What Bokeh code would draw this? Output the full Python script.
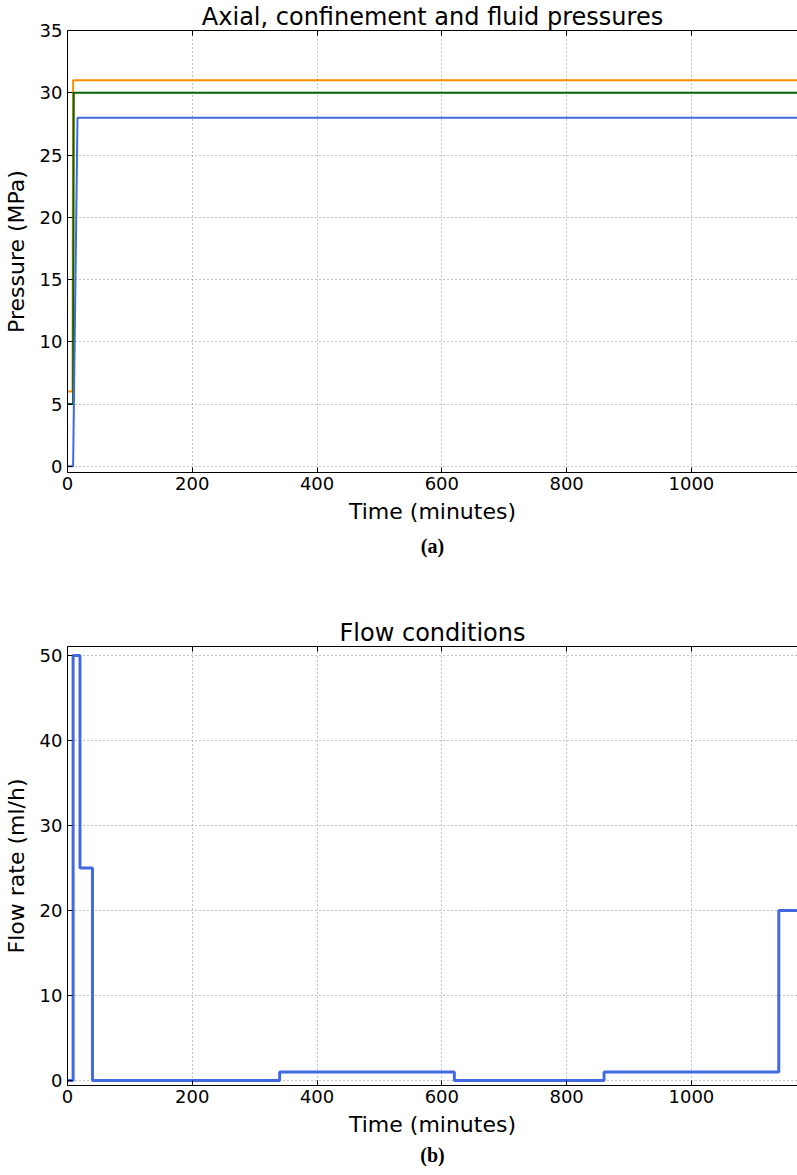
from bokeh.plotting import figure
from bokeh.models import Range1d, Title, FixedTicker, LinearAxis
from bokeh.layouts import column
from bokeh.embed import file_html
from bokeh.resources import INLINE

# ---- Panel (a): pressures ----
t_axial = [0, 8, 9, 1170]
axial_pressure = [6, 6, 31, 31]
t_confinement = [0, 9, 10, 1170]
confinement_pressure = [5, 5, 30, 30]
t_fluid = [0, 9, 16, 1170]
fluid_pressure = [0, 0, 28, 28]

# ---- Panel (b): flow rate (step, value holds until next time) ----
t_flow = [0, 9, 20, 40, 340, 620, 860, 1140, 1170]
flow_rate = [0, 50, 25, 0, 1, 0, 1, 20, 20]

x_ticks = [0, 200, 400, 600, 800, 1000]
y_ticks_a = [0, 5, 10, 15, 20, 25, 30, 35]
y_ticks_b = [0, 10, 20, 30, 40, 50]

FONT = "DejaVu Sans"
W = 797
X_END = 1170


def make_fig(height, frame_h, title, ylabel, yr, yticks, caption, cap_standoff):
    p = figure(width=W, height=height, output_backend="svg", toolbar_location=None,
               x_range=Range1d(0, X_END), y_range=Range1d(*yr),
               min_border_left=60, min_border_right=0, min_border_top=24,
               min_border_bottom=height - 24 - frame_h)
    p.title.text = title
    p.title.text_font = FONT
    p.title.text_font_size = "24px"
    p.title.text_font_style = "normal"
    p.title.text_color = "black"
    p.title.align = "center"
    p.title.standoff = 0
    p.outline_line_color = None
    xb = p.xaxis[0]
    yl = p.yaxis[0]
    for ax in (xb, yl):
        ax.major_label_text_font = FONT
        ax.major_label_text_font_size = "18px"
        ax.axis_label_text_font = FONT
        ax.axis_label_text_font_size = "22px"
        ax.axis_label_text_font_style = "normal"
        ax.major_tick_in = 5
        ax.major_tick_out = 0
        ax.minor_tick_in = 0
        ax.minor_tick_out = 0
        ax.axis_line_color = "black"
        ax.major_tick_line_color = "black"
        ax.major_label_text_color = "black"
        ax.axis_label_text_color = "black"
    xb.ticker = FixedTicker(ticks=x_ticks)
    yl.ticker = FixedTicker(ticks=yticks)
    xb.axis_label = "Time (minutes)"
    yl.axis_label = ylabel
    xb.major_label_standoff = 4
    yl.major_label_standoff = 5
    xb.axis_label_standoff = 6
    yl.axis_label_standoff = 8
    top = LinearAxis(ticker=FixedTicker(ticks=x_ticks), major_label_text_font_size="0px",
                     major_label_standoff=0, major_tick_in=5, major_tick_out=0,
                     minor_tick_in=0, minor_tick_out=0, axis_line_color="black",
                     major_tick_line_color="black", major_label_text_alpha=0)
    p.add_layout(top, "above")
    p.xgrid.ticker = FixedTicker(ticks=x_ticks)
    p.ygrid.ticker = FixedTicker(ticks=yticks)
    p.grid.grid_line_color = "#888888"
    p.grid.grid_line_dash = "1 3"
    p.grid.grid_line_width = 1
    cap = Title(text=caption, align="center", text_font="Liberation Serif",
                text_font_style="bold", text_font_size="20px", text_color="black",
                standoff=cap_standoff)
    p.add_layout(cap, "below")
    return p


p1 = make_fig(616, 448, "Axial, confinement and fluid pressures", "Pressure (MPa)",
              (-0.5, 35), y_ticks_a, "(a)", 13)
p1.line(t_axial, axial_pressure, line_color="#ff8c00", line_width=2)
p1.line(t_confinement, confinement_pressure, line_color="#006400", line_width=2)
p1.line(t_fluid, fluid_pressure, line_color="#4169e1", line_width=2)

p2 = make_fig(555, 445, "Flow conditions", "Flow rate (ml/h)",
              (-0.58, 51.05), y_ticks_b, "(b)", 4)
p2.step(t_flow, flow_rate, mode="after", line_color="#4169e1", line_width=3)

layout = column(p1, p2, spacing=0)
open("out.html", "w").write(file_html(layout, INLINE))
